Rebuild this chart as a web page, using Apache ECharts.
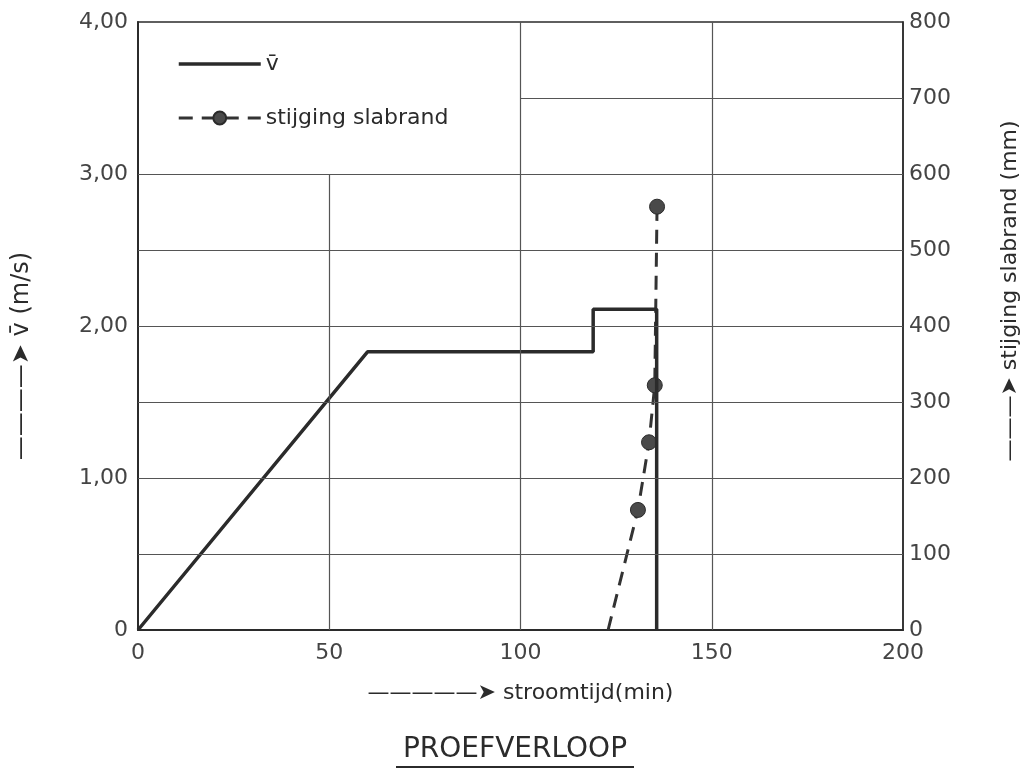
<!DOCTYPE html>
<html>
<head>
<meta charset="utf-8">
<script src="https://cdn.jsdelivr.net/npm/echarts@6/dist/echarts.min.js"></script>
<style>
  html, body { margin: 0; padding: 0; background: #fff; }
  #chart { width: 1030px; height: 773px; }
</style>
</head>
<body>
<div id="chart"></div>
<script>
// mean velocity v-bar (m/s) against flow time (min)
var vTime = [0, 60, 119, 119, 135.6, 135.6];
var vValue = [0, 1.83, 1.83, 2.11, 2.11, 0];

// rise of slab edge (mm), right axis
var riseTime = [122.9, 130.7, 133.6, 135.1, 135.7];
var riseValue = [0, 158, 247, 322, 557];

var xTicks = [0, 50, 100, 150, 200];

// grid lines (x1, y1, x2, y2 in left-axis units); top-left corner kept free for the legend
var gridLines = [
  [0, 0.5, 200, 0.5], [0, 1, 200, 1], [0, 1.5, 200, 1.5], [0, 2, 200, 2],
  [0, 2.5, 200, 2.5], [0, 3, 200, 3], [100, 3.5, 200, 3.5],
  [50, 0, 50, 3], [100, 0, 100, 4], [150, 0, 150, 4]
];

var ink = '#2b2b2b';
var font = 'DejaVu Sans';

var chart = echarts.init(document.getElementById('chart'), null, { renderer: 'canvas' });

var option = {
  animation: false,
  backgroundColor: '#fff',
  textStyle: { fontFamily: font, color: ink },
  title: {
    text: 'PROEFVERLOOP',
    left: 'center',
    top: 731,
    textStyle: { fontFamily: font, fontSize: 28, fontWeight: 'normal', color: ink }
  },
  graphic: [{
    type: 'line',
    shape: { x1: 396, y1: 767, x2: 634, y2: 767 },
    style: { stroke: ink, lineWidth: 2 }
  }],
  legend: {
    orient: 'vertical',
    left: 172,
    top: 48,
    itemGap: 32,
    itemWidth: 82,
    itemHeight: 16,
    textStyle: { fontFamily: font, fontSize: 22, color: ink },
    data: [
      { name: 'v\u0304', itemStyle: { opacity: 0 }, lineStyle: { width: 3.5 } },
      { name: 'stijging slabrand', lineStyle: { width: 3 } }
    ]
  },
  grid: {
    left: 138, right: 127, top: 22, bottom: 143,
    show: true, borderColor: ink, borderWidth: 1.5
  },
  xAxis: {
    type: 'value',
    min: 0, max: 200, interval: 50,
    name: '\u2014\u2014\u2014\u2014\u2014\u27a4 stroomtijd(min)',
    nameLocation: 'middle',
    nameGap: 52,
    nameTextStyle: { fontFamily: font, fontSize: 22, color: ink },
    axisLine: { show: true, lineStyle: { color: ink, width: 2 } },
    axisTick: { show: false },
    splitLine: { show: false },
    axisLabel: {
      margin: 12, fontSize: 22, color: '#444', fontFamily: font,
      customValues: xTicks
    }
  },
  yAxis: [{
    type: 'value',
    min: 0, max: 4, interval: 1,
    name: '\u2014\u2014\u2014\u2014\u27a4 v\u0304 (m/s)',
    nameLocation: 'middle',
    nameRotate: 90,
    nameGap: 104,
    nameTextStyle: { fontFamily: font, fontSize: 24, color: ink, padding: [0, 60, 0, 0] },
    axisLine: { show: true, lineStyle: { color: ink, width: 2 } },
    axisTick: { show: false },
    splitLine: { show: false },
    axisLabel: {
      margin: 10, fontSize: 22, color: '#444', fontFamily: font,
      formatter: function (v) { return v === 0 ? '0' : v.toFixed(2).replace('.', ','); }
    }
  }, {
    type: 'value',
    min: 0, max: 800, interval: 100,
    position: 'right',
    name: '\u2014\u2014\u2014\u27a4 stijging slabrand (mm)',
    nameLocation: 'middle',
    nameRotate: 90,
    nameGap: 96,
    nameTextStyle: { fontFamily: font, fontSize: 22, color: ink, padding: [0, 0, 0, 70] },
    axisLine: { show: true, lineStyle: { color: ink, width: 1.5 } },
    axisTick: { show: false },
    splitLine: { show: false },
    axisLabel: { margin: 6, fontSize: 22, color: '#444', fontFamily: font }
  }],
  series: [{
    name: 'v\u0304',
    type: 'line',
    yAxisIndex: 0,
    symbol: 'none',
    lineStyle: { color: ink, width: 3.5 },
    itemStyle: { color: ink },
    data: vTime.map(function (t, i) { return [t, vValue[i]]; }),
    markLine: {
      silent: true,
      symbol: ['none', 'none'],
      label: { show: false },
      lineStyle: { color: '#555', width: 1.2, type: 'solid' },
      emphasis: { disabled: true },
      data: gridLines.map(function (g) {
        return [{ coord: [g[0], g[1]] }, { coord: [g[2], g[3]] }];
      })
    },
    z: 3
  }, {
    name: 'stijging slabrand',
    type: 'line',
    yAxisIndex: 1,
    symbol: 'circle',
    symbolSize: 15,
    lineStyle: { color: '#333', width: 3, type: [14, 9] },
    itemStyle: { color: '#4a4a4a', borderColor: '#2b2b2b', borderWidth: 1 },
    data: riseTime.map(function (t, i) {
      var d = { value: [t, riseValue[i]] };
      if (i === 0) d.symbol = 'none';
      return d;
    }),
    z: 2
  }]
};

chart.setOption(option);
</script>
</body>
</html>
